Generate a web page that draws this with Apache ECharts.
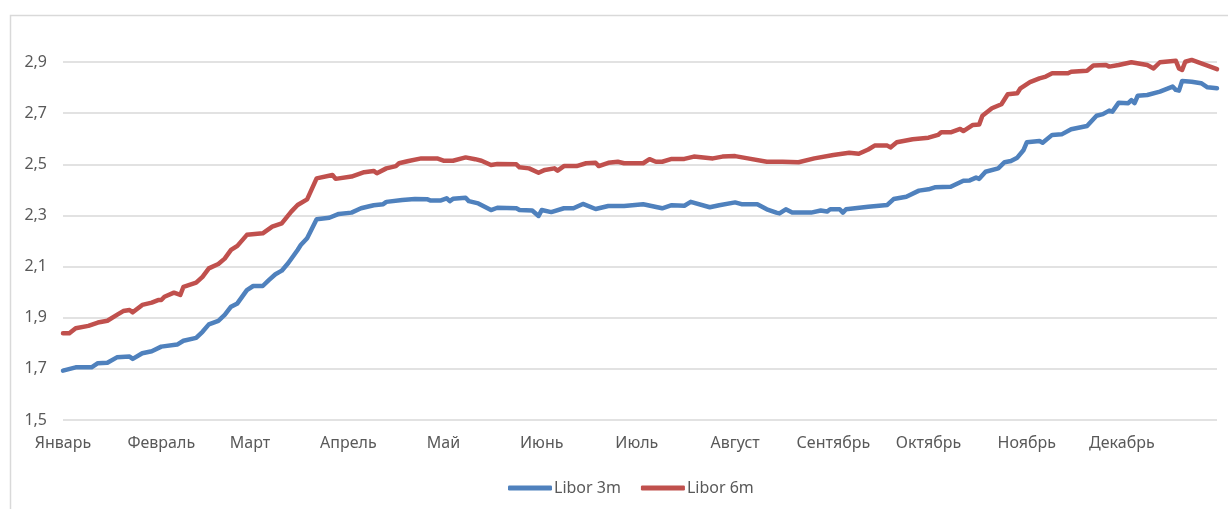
<!DOCTYPE html>
<html>
<head>
<meta charset="utf-8">
<script src="https://cdn.jsdelivr.net/npm/echarts@6/dist/echarts.min.js"></script>
<style>html,body{margin:0;padding:0;background:#fff}#c{width:1228px;height:509px}</style>
</head>
<body>
<div id="c"></div>
<script>
// Month labels and the day-of-year on which each month starts
const monthLabels = ['Январь','Февраль','Март','Апрель','Май','Июнь','Июль','Август','Сентябрь','Октябрь','Ноябрь','Декабрь'];
const monthStartDays = [0,31,59,90,120,151,181,212,243,273,304,334];
const yTicks = [1.5,1.7,1.9,2.1,2.3,2.5,2.7,2.9];

// Libor 3m (day of year, value)
const days3m = [0,4,9,11,14,17,21,22,25,28,31,36,38,42,44,46,49,51,53,55,58,60,63,65,67,69,71,74,75,77,80,84,87,91,94,98,101,102,107,111,115,116,119,121,122,123,127,128,131,135,137,143,144,148,150,151,154,158,161,164,168,172,177,183,189,192,196,198,204,207,212,214,219,222,225,226,228,230,236,239,241,242,245,246,247,254,260,262,266,270,273,275,280,284,286,288,289,291,295,297,299,301,303,304,308,309,312,315,318,323,326,328,330,331,333,336,337,338,339,342,346,350,351,352,353,356,359,361,364];
const libor3m = [1.693,1.706,1.706,1.722,1.724,1.745,1.748,1.739,1.761,1.769,1.787,1.795,1.81,1.821,1.845,1.874,1.888,1.911,1.943,1.956,2.008,2.024,2.024,2.048,2.07,2.084,2.113,2.165,2.184,2.211,2.285,2.291,2.306,2.311,2.328,2.34,2.344,2.353,2.36,2.364,2.363,2.358,2.358,2.367,2.356,2.365,2.369,2.356,2.347,2.321,2.33,2.328,2.321,2.319,2.298,2.321,2.313,2.328,2.328,2.345,2.325,2.337,2.337,2.344,2.328,2.34,2.338,2.353,2.332,2.34,2.351,2.344,2.344,2.324,2.311,2.308,2.324,2.311,2.311,2.319,2.315,2.324,2.324,2.311,2.324,2.334,2.341,2.364,2.373,2.397,2.402,2.41,2.412,2.436,2.437,2.448,2.443,2.471,2.484,2.508,2.513,2.526,2.556,2.586,2.591,2.584,2.615,2.617,2.637,2.65,2.69,2.696,2.71,2.706,2.741,2.739,2.751,2.739,2.768,2.771,2.784,2.804,2.791,2.788,2.826,2.823,2.817,2.801,2.797];

// Libor 6m (day of year, value)
const days6m = [0,2,4,8,11,14,17,19,21,22,25,28,30,31,32,35,37,38,42,44,46,49,51,53,55,58,63,66,69,72,74,77,80,85,86,91,95,98,99,102,105,106,109,113,118,120,123,127,130,132,135,137,143,144,147,150,152,155,156,158,162,165,168,169,172,175,177,183,185,187,189,192,196,199,205,208,212,216,222,227,232,237,243,248,251,254,256,260,261,263,268,273,276,277,280,283,284,287,289,290,293,296,298,301,302,305,308,310,312,317,318,323,325,329,330,333,337,342,344,346,351,352,353,354,356,361,364];
const libor6m = [1.839,1.839,1.859,1.868,1.881,1.888,1.911,1.926,1.93,1.921,1.95,1.959,1.969,1.969,1.982,1.998,1.989,2.021,2.037,2.06,2.093,2.11,2.131,2.165,2.181,2.224,2.23,2.256,2.269,2.315,2.341,2.363,2.445,2.458,2.443,2.452,2.469,2.474,2.465,2.484,2.493,2.504,2.513,2.523,2.523,2.514,2.514,2.527,2.52,2.514,2.497,2.501,2.5,2.488,2.484,2.467,2.478,2.484,2.475,2.493,2.493,2.504,2.506,2.493,2.506,2.51,2.504,2.504,2.52,2.51,2.51,2.521,2.521,2.53,2.523,2.53,2.532,2.523,2.51,2.51,2.508,2.523,2.536,2.545,2.541,2.558,2.573,2.573,2.566,2.586,2.598,2.604,2.615,2.625,2.625,2.638,2.63,2.654,2.656,2.69,2.719,2.735,2.774,2.778,2.797,2.821,2.836,2.843,2.856,2.856,2.862,2.866,2.886,2.888,2.882,2.888,2.899,2.888,2.875,2.899,2.905,2.875,2.869,2.901,2.908,2.886,2.872];

const dayCategories = [];
for (let i = 0; i < 365; i++) dayCategories.push(i);
const startIndex = {};
monthStartDays.forEach((d, i) => { startIndex[d] = monthLabels[i]; });

const pair = (ds, vs) => ds.map((d, i) => [d, vs[i]]);
const FONT = '"Noto Sans", "DejaVu Sans", sans-serif';

const chart = echarts.init(document.getElementById('c'), null, {renderer: 'canvas'});
chart.setOption({
  animation: false,
  backgroundColor: '#fff',
  textStyle: {fontFamily: FONT},
  grid: {left: 63, right: 11, top: 62, bottom: 89, containLabel: false},
  xAxis: {
    type: 'category',
    data: dayCategories,
    boundaryGap: false,
    axisLine: {show: false},
    axisTick: {show: false},
    splitLine: {show: false},
    axisLabel: {
      interval: (idx) => startIndex[idx] !== undefined,
      formatter: (v, idx) => startIndex[idx] || '',
      color: '#595959', fontSize: 16, fontFamily: FONT, margin: 15
    }
  },
  yAxis: {
    type: 'value',
    min: yTicks[0], max: yTicks[yTicks.length - 1], interval: 0.2,
    axisLine: {show: false},
    axisTick: {show: false},
    splitLine: {lineStyle: {color: '#d9d9d9', width: 1.5}},
    axisLabel: {
      color: '#595959', fontSize: 16, fontFamily: FONT, margin: 16,
      formatter: (v) => v.toFixed(1).replace('.', ',')
    }
  },
  legend: {
    left: 503, top: 475,
    itemWidth: 44, itemHeight: 5, itemGap: 20,
    icon: 'roundRect',
    textStyle: {color: '#595959', fontSize: 16, fontFamily: FONT, padding: [0, 0, 0, -3]},
    data: ['Libor 3m', 'Libor 6m']
  },
  graphic: [{
    type: 'rect', left: 8, top: 13, silent: true,
    shape: {width: 1250, height: 520},
    style: {fill: 'none', stroke: '#d9d9d9', lineWidth: 1.5}
  }],
  series: [
    {name: 'Libor 3m', type: 'line', data: pair(days3m, libor3m), showSymbol: false, connectNulls: true, clip: false,
     color: '#4F81BD', lineStyle: {width: 4.5, color: '#4F81BD', cap: 'round', join: 'round'}},
    {name: 'Libor 6m', type: 'line', data: pair(days6m, libor6m), showSymbol: false, connectNulls: true, clip: false,
     color: '#C0504D', lineStyle: {width: 4.5, color: '#C0504D', cap: 'round', join: 'round'}}
  ]
});
</script>
</body>
</html>
